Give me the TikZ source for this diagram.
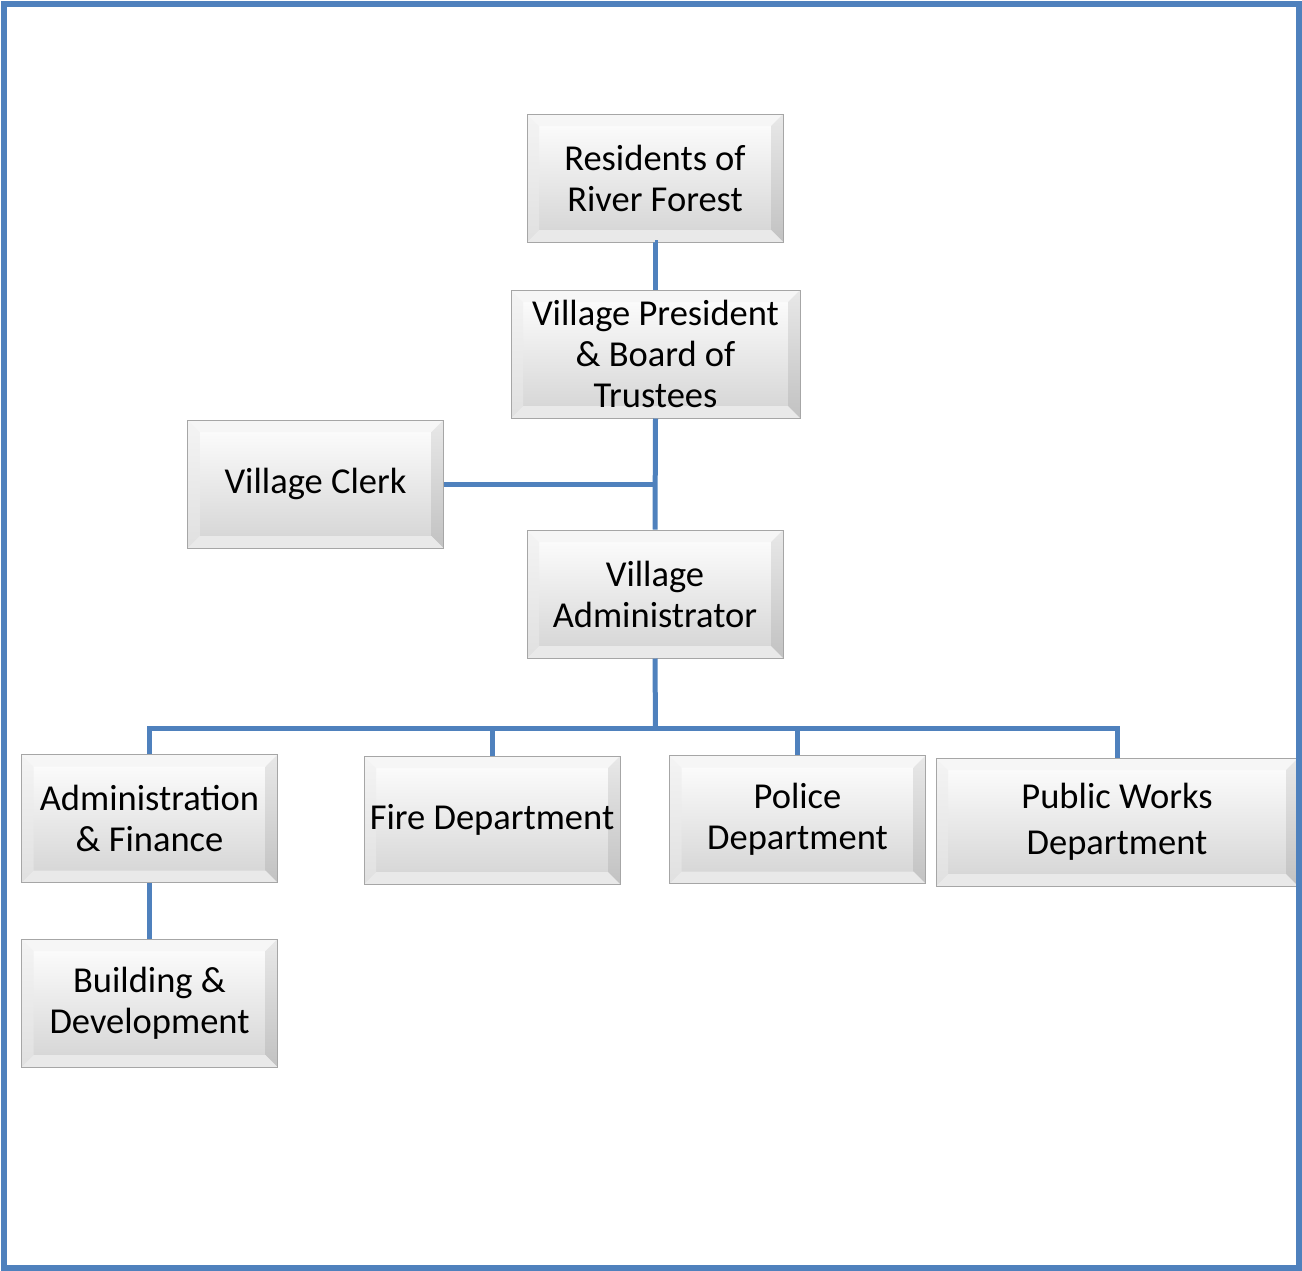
\documentclass[tikz,border=0pt]{standalone}
\usepackage{fontspec}
\setmainfont{Carlito}
\definecolor{linkblue}{HTML}{4F81BD}
\definecolor{boxedge}{HTML}{A6A6A6}
\definecolor{facelow}{HTML}{D3D3D3}
\definecolor{bevtop}{HTML}{F6F6F6}
\definecolor{bevleftA}{HTML}{F4F4F4}
\definecolor{bevleftB}{HTML}{E0E0E0}
\definecolor{bevrightA}{HTML}{E8E8E8}
\definecolor{bevrightB}{HTML}{C2C2C2}
\definecolor{bevbottom}{HTML}{E9E9E9}

% bevel strips drawn inside each box
\newcommand\bevelstrips{%
  \fill[bevtop]
    (path picture bounding box.north west) -- (path picture bounding box.north east)
    -- ([shift={(-12pt,-12pt)}]path picture bounding box.north east)
    -- ([shift={(12pt,-12pt)}]path picture bounding box.north west) -- cycle;
  \shade[top color=bevleftA, bottom color=bevleftB]
    (path picture bounding box.north west)
    -- ([shift={(12pt,-12pt)}]path picture bounding box.north west)
    -- ([shift={(12pt,12pt)}]path picture bounding box.south west)
    -- (path picture bounding box.south west) -- cycle;
  \shade[top color=bevrightA, bottom color=bevrightB]
    (path picture bounding box.north east)
    -- ([shift={(-12pt,-12pt)}]path picture bounding box.north east)
    -- ([shift={(-12pt,12pt)}]path picture bounding box.south east)
    -- (path picture bounding box.south east) -- cycle;
  \fill[bevbottom]
    (path picture bounding box.south west) -- (path picture bounding box.south east)
    -- ([shift={(-12pt,12pt)}]path picture bounding box.south east)
    -- ([shift={(12pt,12pt)}]path picture bounding box.south west) -- cycle;
}

\tikzset{
  orgbox/.style={draw=boxedge, line width=1pt, minimum width=256pt, minimum height=128pt,
    inner sep=0pt, align=center, top color=white, bottom color=facelow,
    font=\fontsize{36.5pt}{41pt}\selectfont, path picture={\bevelstrips}},
  link/.style={draw=linkblue, line width=5pt},
  frame/.style={draw=linkblue, line width=6pt}
}

\begin{document}
\begin{tikzpicture}[x=1pt,y=-1pt]
\useasboundingbox (0,0) rectangle (1302,1270);

% boxes
\node[orgbox] (res) at (655,178) {Residents of\\River Forest};
\node[orgbox, minimum width=289pt] (pres) at (655.5,354) {Village President\\\& Board of\\Trustees};
\node[orgbox] (clerk) at (315.5,484) {Village Clerk};
\node[orgbox] (adm) at (655,594) {Village\\Administrator};
\node[orgbox] (fin) at (149.5,818.5) {Administration\\\& Finance};
\node[orgbox] (fire) at (492,820) {Fire Department};
\node[orgbox] (pol) at (797.5,819.5) {Police\\Department};
\node[orgbox, minimum width=362pt, font=\fontsize{36.5pt}{46pt}\selectfont] (pw) at (1117,822) {Public Works\\Department};
\node[orgbox] (bld) at (149.5,1003) {Building \&\\Development};

% connectors
\coordinate (bus) at (655.5,728);
\draw[link] (res.south) -- (pres.south |- res.south) -- (pres.north);
\draw[link] (pres.south) -- (adm.north);
\draw[link] (clerk.east) -- (clerk.east -| pres.south);
\draw[link] (adm.south) -- (bus);
\draw[link] (fin.north) -- (fin.north |- bus) -- (pw.north |- bus) -- (pw.north);
\draw[link] (fire.north) -- (fire.north |- bus);
\draw[link] (pol.north) -- (pol.north |- bus);
\draw[link] (fin.south) -- (bld.north);

% outer frame
\draw[frame] (4,4) rectangle (1299,1268);
\end{tikzpicture}
\end{document}
